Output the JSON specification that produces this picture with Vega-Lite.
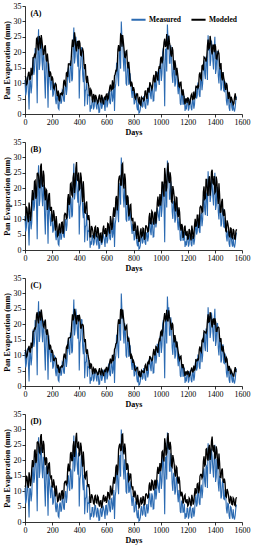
{
 "$schema": "https://vega.github.io/schema/vega-lite/v6.json",
 "padding": {"left": 3, "top": 2, "right": 4, "bottom": 2},
 "background": "white",
 "config": {
  "view": {"stroke": null},
  "font": "Liberation Serif",
  "axis": {"grid": false, "domainColor": "black", "tickColor": "black", "labelColor": "black", "titleColor": "black", "labelFont": "Liberation Serif", "titleFont": "Liberation Serif", "labelFontSize": 8, "titleFontSize": 8, "titleFontWeight": "bold", "tickSize": 3, "labelPadding": 1, "titlePadding": 2, "domainWidth": 0.8, "tickWidth": 0.8},
  "concat": {"spacing": 2}
 },
 "resolve": {"scale": {"color": "independent"}, "legend": {"color": "independent"}},
 "datasets": {"ev": [
{"d":0,"M":11.0,"A":12.2,"B":9.4,"C":11.7,"D":11.4},
{"d":10,"M":7.3,"A":9.5,"B":14.1,"C":9.4,"D":15.0},
{"d":20,"M":12.0,"A":11.5,"B":10.4,"C":11.1,"D":12.1},
{"d":30,"M":1.5,"A":13.7,"B":15.4,"C":13.0,"D":16.1},
{"d":40,"M":10.7,"A":11.3,"B":9.4,"C":11.0,"D":11.6},
{"d":50,"M":9.0,"A":12.5,"B":16.2,"C":12.3,"D":17.4},
{"d":60,"M":18.3,"A":18.3,"B":16.1,"C":17.6,"D":17.8},
{"d":70,"M":14.2,"A":19.2,"B":22.2,"C":18.7,"D":23.0},
{"d":80,"M":20.6,"A":19.7,"B":16.6,"C":19.3,"D":19.1},
{"d":90,"M":3.5,"A":24.7,"B":24.8,"C":23.9,"D":25.8},
{"d":100,"M":27.5,"A":20.6,"B":24.0,"C":20.3,"D":25.4},
{"d":110,"M":16.4,"A":24.3,"B":20.0,"C":23.6,"D":22.3},
{"d":120,"M":24.4,"A":25.6,"B":28.0,"C":24.8,"D":28.5},
{"d":130,"M":14.2,"A":21.7,"B":20.5,"C":21.2,"D":22.4},
{"d":140,"M":18.5,"A":19.4,"B":24.1,"C":19.0,"D":25.0},
{"d":150,"M":5.0,"A":22.3,"B":16.1,"C":21.5,"D":18.4},
{"d":160,"M":18.2,"A":17.0,"B":19.3,"C":16.6,"D":20.5},
{"d":170,"M":2.0,"A":17.2,"B":14.3,"C":16.6,"D":16.3},
{"d":180,"M":13.6,"A":12.0,"B":18.5,"C":11.8,"D":19.1},
{"d":190,"M":7.7,"A":13.2,"B":12.7,"C":12.8,"D":14.3},
{"d":200,"M":11.0,"A":12.2,"B":9.4,"C":11.7,"D":11.4},
{"d":210,"M":6.4,"A":8.5,"B":12.9,"C":8.3,"D":13.8},
{"d":220,"M":9.6,"A":9.3,"B":8.3,"C":8.9,"D":10.0},
{"d":230,"M":3.2,"A":9.5,"B":11.0,"C":8.9,"D":11.8},
{"d":240,"M":5.5,"A":5.8,"B":4.5,"C":5.7,"D":6.6},
{"d":250,"M":1.5,"A":4.6,"B":7.5,"C":4.5,"D":8.8},
{"d":260,"M":6.3,"A":6.6,"B":5.4,"C":6.1,"D":7.0},
{"d":270,"M":4.0,"A":6.8,"B":8.9,"C":6.5,"D":10.0},
{"d":280,"M":7.4,"A":6.7,"B":5.2,"C":6.6,"D":7.4},
{"d":290,"M":4.0,"A":11.1,"B":11.3,"C":10.5,"D":12.5},
{"d":300,"M":10.0,"A":9.1,"B":11.7,"C":9.0,"D":13.2},
{"d":310,"M":8.2,"A":13.5,"B":10.5,"C":13.0,"D":12.6},
{"d":320,"M":15.1,"A":16.2,"B":18.1,"C":15.5,"D":18.9},
{"d":330,"M":10.1,"A":16.2,"B":15.3,"C":15.7,"D":17.1},
{"d":340,"M":16.5,"A":17.3,"B":21.7,"C":16.9,"D":22.7},
{"d":350,"M":11.4,"A":24.1,"B":17.5,"C":23.2,"D":19.9},
{"d":360,"M":28.0,"A":22.5,"B":25.0,"C":22.0,"D":26.2},
{"d":370,"M":18.6,"A":24.6,"B":21.0,"C":23.9,"D":23.1},
{"d":380,"M":22.2,"A":20.3,"B":28.5,"C":20.0,"D":28.9},
{"d":390,"M":15.3,"A":23.5,"B":22.5,"C":22.8,"D":24.1},
{"d":400,"M":5.0,"A":23.8,"B":19.5,"C":23.1,"D":21.6},
{"d":410,"M":15.3,"A":19.1,"B":25.1,"C":18.8,"D":25.7},
{"d":420,"M":21.4,"A":20.6,"B":18.8,"C":20.0,"D":20.6},
{"d":430,"M":10.3,"A":20.2,"B":22.3,"C":19.5,"D":22.8},
{"d":440,"M":2.5,"A":14.5,"B":12.2,"C":14.2,"D":14.5},
{"d":450,"M":8.1,"A":11.4,"B":15.1,"C":11.2,"D":16.2},
{"d":460,"M":3.0,"A":12.4,"B":10.7,"C":11.9,"D":12.4},
{"d":470,"M":5.9,"A":9.1,"B":11.3,"C":8.7,"D":12.3},
{"d":480,"M":0.7,"A":5.7,"B":4.3,"C":5.5,"D":6.4},
{"d":490,"M":1.7,"A":7.5,"B":7.8,"C":7.0,"D":9.0},
{"d":500,"M":4.7,"A":3.8,"B":6.2,"C":3.8,"D":7.6},
{"d":510,"M":2.3,"A":5.8,"B":3.9,"C":5.4,"D":5.8},
{"d":520,"M":5.3,"A":6.2,"B":7.6,"C":5.7,"D":8.6},
{"d":530,"M":1.5,"A":4.6,"B":4.3,"C":4.4,"D":6.1},
{"d":540,"M":3.7,"A":3.9,"B":6.9,"C":3.8,"D":8.0},
{"d":550,"M":0.6,"A":6.3,"B":3.0,"C":5.8,"D":5.0},
{"d":560,"M":4.5,"A":3.8,"B":5.5,"C":3.7,"D":6.9},
{"d":570,"M":2.6,"A":5.3,"B":3.8,"C":4.9,"D":5.6},
{"d":580,"M":4.4,"A":3.1,"B":7.9,"C":3.2,"D":8.8},
{"d":590,"M":1.0,"A":5.6,"B":5.4,"C":5.3,"D":7.0},
{"d":600,"M":5.4,"A":6.4,"B":4.3,"C":6.0,"D":6.2},
{"d":610,"M":3.3,"A":4.7,"B":8.6,"C":4.7,"D":9.6},
{"d":620,"M":7.3,"A":7.0,"B":6.2,"C":6.6,"D":7.9},
{"d":630,"M":3.2,"A":9.5,"B":11.0,"C":8.9,"D":11.8},
{"d":640,"M":7.6,"A":8.0,"B":6.5,"C":7.8,"D":8.6},
{"d":650,"M":5.6,"A":8.3,"B":11.6,"C":8.1,"D":12.8},
{"d":660,"M":1.0,"A":12.4,"B":10.7,"C":11.9,"D":12.4},
{"d":670,"M":10.0,"A":14.1,"B":16.8,"C":13.7,"D":17.7},
{"d":680,"M":16.2,"A":15.4,"B":12.8,"C":15.0,"D":15.2},
{"d":690,"M":9.0,"A":22.3,"B":22.5,"C":21.6,"D":23.5},
{"d":700,"M":21.7,"A":20.6,"B":24.0,"C":20.3,"D":25.4},
{"d":710,"M":30.0,"A":25.5,"B":21.0,"C":24.8,"D":23.3},
{"d":720,"M":24.4,"A":25.6,"B":28.0,"C":24.8,"D":28.5},
{"d":730,"M":13.8,"A":21.1,"B":19.9,"C":20.6,"D":21.9},
{"d":740,"M":17.5,"A":18.3,"B":22.9,"C":18.0,"D":23.8},
{"d":750,"M":9.2,"A":20.5,"B":14.6,"C":19.7,"D":16.9},
{"d":760,"M":15.9,"A":14.8,"B":17.0,"C":14.4,"D":18.2},
{"d":770,"M":10.0,"A":14.3,"B":11.8,"C":13.7,"D":13.7},
{"d":780,"M":10.3,"A":8.9,"B":14.8,"C":8.8,"D":15.5},
{"d":790,"M":5.2,"A":9.8,"B":9.4,"C":9.4,"D":11.0},
{"d":800,"M":7.6,"A":8.7,"B":6.4,"C":8.2,"D":8.3},
{"d":810,"M":3.7,"A":5.3,"B":9.2,"C":5.2,"D":10.2},
{"d":820,"M":6.1,"A":5.8,"B":5.1,"C":5.5,"D":6.8},
{"d":830,"M":1.2,"A":6.5,"B":7.9,"C":6.0,"D":8.8},
{"d":840,"M":0.3,"A":3.7,"B":2.6,"C":3.5,"D":4.6},
{"d":850,"M":1.4,"A":3.0,"B":5.8,"C":3.0,"D":7.0},
{"d":860,"M":5.1,"A":5.4,"B":4.3,"C":5.0,"D":5.9},
{"d":870,"M":2.6,"A":5.1,"B":7.1,"C":4.8,"D":8.2},
{"d":880,"M":5.2,"A":4.6,"B":3.3,"C":4.4,"D":5.4},
{"d":890,"M":1.7,"A":7.5,"B":7.8,"C":7.0,"D":9.0},
{"d":900,"M":5.8,"A":4.9,"B":7.3,"C":4.9,"D":8.7},
{"d":910,"M":4.2,"A":8.3,"B":6.1,"C":7.9,"D":8.0},
{"d":920,"M":9.3,"A":10.3,"B":12.0,"C":9.7,"D":12.8},
{"d":930,"M":4.8,"A":9.0,"B":8.5,"C":8.7,"D":10.3},
{"d":940,"M":8.3,"A":8.7,"B":12.2,"C":8.5,"D":13.3},
{"d":950,"M":4.3,"A":12.7,"B":8.2,"C":12.0,"D":10.3},
{"d":960,"M":11.3,"A":10.4,"B":12.4,"C":10.1,"D":13.7},
{"d":970,"M":9.1,"A":13.1,"B":10.8,"C":12.6,"D":12.7},
{"d":980,"M":12.5,"A":10.9,"B":17.3,"C":10.8,"D":17.9},
{"d":990,"M":9.4,"A":15.5,"B":14.9,"C":15.0,"D":16.5},
{"d":1000,"M":16.6,"A":18.0,"B":14.4,"C":17.4,"D":16.5},
{"d":1010,"M":13.1,"A":16.4,"B":22.0,"C":16.1,"D":22.7},
{"d":1020,"M":21.4,"A":20.6,"B":18.8,"C":20.0,"D":20.6},
{"d":1030,"M":2.5,"A":24.4,"B":26.6,"C":23.6,"D":27.1},
{"d":1040,"M":21.1,"A":22.2,"B":19.0,"C":21.7,"D":21.5},
{"d":1050,"M":29.0,"A":21.5,"B":26.1,"C":21.1,"D":27.1},
{"d":1060,"M":25.5,"A":25.3,"B":22.5,"C":24.5,"D":24.2},
{"d":1070,"M":16.5,"A":22.0,"B":25.2,"C":21.4,"D":26.0},
{"d":1080,"M":19.5,"A":18.6,"B":15.7,"C":18.2,"D":18.2},
{"d":1090,"M":10.1,"A":20.6,"B":20.7,"C":19.8,"D":21.7},
{"d":1100,"M":15.3,"A":14.3,"B":17.3,"C":14.1,"D":18.7},
{"d":1110,"M":9.9,"A":15.8,"B":12.5,"C":15.2,"D":14.7},
{"d":1120,"M":14.0,"A":15.0,"B":16.9,"C":14.4,"D":17.6},
{"d":1130,"M":6.4,"A":11.2,"B":10.6,"C":10.9,"D":12.4},
{"d":1140,"M":8.3,"A":8.7,"B":12.2,"C":8.5,"D":13.3},
{"d":1150,"M":2.9,"A":10.3,"B":6.3,"C":9.7,"D":8.3},
{"d":1160,"M":6.8,"A":6.0,"B":7.8,"C":5.8,"D":9.1},
{"d":1170,"M":3.6,"A":6.4,"B":4.8,"C":6.0,"D":6.6},
{"d":1180,"M":1.0,"A":3.1,"B":7.9,"C":3.2,"D":8.8},
{"d":1190,"M":1.5,"A":4.9,"B":4.8,"C":4.6,"D":6.3},
{"d":1200,"M":4.3,"A":5.2,"B":3.3,"C":4.8,"D":5.2},
{"d":1210,"M":1.9,"A":3.1,"B":6.8,"C":3.1,"D":7.8},
{"d":1220,"M":4.9,"A":4.7,"B":4.1,"C":4.4,"D":5.7},
{"d":1230,"M":1.2,"A":6.5,"B":7.9,"C":6.0,"D":8.8},
{"d":1240,"M":4.5,"A":4.8,"B":3.6,"C":4.6,"D":5.6},
{"d":1250,"M":3.1,"A":5.1,"B":8.1,"C":5.0,"D":9.3},
{"d":1260,"M":8.7,"A":8.9,"B":7.5,"C":8.4,"D":9.2},
{"d":1270,"M":5.9,"A":9.1,"B":11.3,"C":8.7,"D":12.3},
{"d":1280,"M":9.6,"A":8.9,"B":7.1,"C":8.7,"D":9.3},
{"d":1290,"M":5.5,"A":13.5,"B":13.7,"C":12.8,"D":14.8},
{"d":1300,"M":12.1,"A":11.2,"B":14.0,"C":11.0,"D":15.4},
{"d":1310,"M":9.9,"A":15.8,"B":12.5,"C":15.2,"D":14.7},
{"d":1320,"M":17.4,"A":18.5,"B":20.6,"C":17.8,"D":21.3},
{"d":1330,"M":11.3,"A":17.8,"B":16.8,"C":17.4,"D":18.7},
{"d":1340,"M":17.5,"A":18.3,"B":22.9,"C":18.0,"D":23.8},
{"d":1350,"M":25.5,"A":24.1,"B":17.5,"C":23.2,"D":19.9},
{"d":1360,"M":22.7,"A":21.4,"B":23.9,"C":20.9,"D":25.0},
{"d":1370,"M":17.6,"A":23.5,"B":20.0,"C":22.8,"D":22.0},
{"d":1380,"M":21.1,"A":19.3,"B":26.0,"C":19.0,"D":27.7},
{"d":1390,"M":14.4,"A":22.3,"B":21.4,"C":21.7,"D":23.0},
{"d":1400,"M":25.0,"A":22.6,"B":18.5,"C":21.9,"D":20.6},
{"d":1410,"M":14.5,"A":18.0,"B":23.8,"C":17.7,"D":24.5},
{"d":1420,"M":20.2,"A":19.5,"B":17.8,"C":18.9,"D":19.6},
{"d":1430,"M":9.9,"A":19.6,"B":21.6,"C":18.9,"D":22.2},
{"d":1440,"M":13.8,"A":14.5,"B":12.2,"C":14.2,"D":14.5},
{"d":1450,"M":8.5,"A":11.9,"B":15.6,"C":11.8,"D":16.8},
{"d":1460,"M":13.5,"A":13.6,"B":11.8,"C":13.0,"D":13.5},
{"d":1470,"M":7.3,"A":10.7,"B":13.2,"C":10.3,"D":14.1},
{"d":1480,"M":8.5,"A":7.8,"B":6.2,"C":7.6,"D":8.4},
{"d":1490,"M":2.8,"A":9.3,"B":9.6,"C":8.7,"D":10.7},
{"d":1500,"M":5.8,"A":4.9,"B":7.3,"C":4.9,"D":8.7},
{"d":1510,"M":1.0,"A":6.0,"B":4.1,"C":5.7,"D":6.0},
{"d":1520,"M":4.7,"A":5.6,"B":7.0,"C":5.1,"D":8.0},
{"d":1530,"M":1.1,"A":4.0,"B":3.8,"C":3.8,"D":5.6},
{"d":1540,"M":1.5,"A":3.3,"B":6.3,"C":3.2,"D":7.4},
{"d":1550,"M":2.2,"A":6.7,"B":3.3,"C":6.1,"D":5.3},
{"d":1560,"M":5.6,"A":4.9,"B":6.7,"C":4.7,"D":8.0},
{"d":5,"M":6.0,"A":12.0,"B":10.1,"C":11.3,"D":11.9},
{"d":15,"M":11.6,"A":9.8,"B":13.4,"C":9.8,"D":14.5},
{"d":25,"M":7.1,"A":13.2,"B":9.0,"C":12.2,"D":11.1},
{"d":35,"M":10.8,"A":11.2,"B":13.3,"C":11.1,"D":14.5},
{"d":45,"M":6.7,"A":15.0,"B":11.0,"C":14.1,"D":13.1},
{"d":55,"M":15.5,"A":13.3,"B":19.4,"C":13.5,"D":20.1},
{"d":65,"M":12.7,"A":18.3,"B":17.2,"C":17.7,"D":18.8},
{"d":75,"M":21.4,"A":18.6,"B":22.5,"C":18.5,"D":23.5},
{"d":85,"M":14.4,"A":24.4,"B":17.6,"C":23.1,"D":20.0},
{"d":95,"M":20.6,"A":21.6,"B":24.9,"C":21.4,"D":26.0},
{"d":105,"M":14.3,"A":25.3,"B":20.5,"C":24.1,"D":22.7},
{"d":115,"M":23.9,"A":21.2,"B":27.0,"C":21.2,"D":27.7},
{"d":125,"M":17.4,"A":23.8,"B":21.5,"C":22.9,"D":23.3},
{"d":135,"M":21.1,"A":19.3,"B":25.7,"C":19.4,"D":26.3},
{"d":145,"M":10.8,"A":21.8,"B":18.2,"C":20.8,"D":20.2},
{"d":155,"M":17.6,"A":18.1,"B":19.7,"C":17.7,"D":21.0},
{"d":165,"M":11.4,"A":19.6,"B":13.0,"C":18.4,"D":15.5},
{"d":175,"M":16.4,"A":13.8,"B":17.9,"C":13.8,"D":18.9},
{"d":185,"M":10.3,"A":13.8,"B":13.5,"C":13.4,"D":15.1},
{"d":195,"M":11.8,"A":10.8,"B":14.0,"C":10.7,"D":15.1},
{"d":205,"M":5.6,"A":11.4,"B":9.5,"C":10.8,"D":11.3},
{"d":215,"M":9.9,"A":8.1,"B":11.6,"C":8.2,"D":12.7},
{"d":225,"M":4.7,"A":9.9,"B":6.3,"C":9.1,"D":8.3},
{"d":235,"M":6.3,"A":6.6,"B":8.4,"C":6.5,"D":9.7},
{"d":245,"M":1.9,"A":7.6,"B":4.8,"C":6.9,"D":6.8},
{"d":255,"M":5.7,"A":4.1,"B":8.6,"C":4.4,"D":9.5},
{"d":265,"M":3.3,"A":6.4,"B":5.9,"C":6.0,"D":7.5},
{"d":275,"M":7.8,"A":6.2,"B":9.0,"C":6.2,"D":10.1},
{"d":285,"M":4.5,"A":10.4,"B":6.2,"C":9.5,"D":8.4},
{"d":295,"M":8.9,"A":9.4,"B":11.9,"C":9.3,"D":13.1},
{"d":305,"M":6.2,"A":13.3,"B":10.2,"C":12.5,"D":12.1},
{"d":315,"M":13.9,"A":11.9,"B":16.5,"C":12.0,"D":17.4},
{"d":325,"M":11.4,"A":16.3,"B":14.6,"C":15.6,"D":16.4},
{"d":335,"M":17.3,"A":15.6,"B":21.4,"C":15.8,"D":22.1},
{"d":345,"M":10.6,"A":21.5,"B":17.9,"C":20.5,"D":19.9},
{"d":355,"M":21.1,"A":21.7,"B":23.4,"C":21.3,"D":24.7},
{"d":365,"M":16.4,"A":26.5,"B":18.5,"C":25.0,"D":21.1},
{"d":375,"M":25.0,"A":21.5,"B":26.5,"C":21.5,"D":27.3},
{"d":385,"M":18.3,"A":23.4,"B":22.7,"C":22.8,"D":24.3},
{"d":395,"M":22.5,"A":21.0,"B":25.1,"C":20.9,"D":26.1},
{"d":405,"M":13.8,"A":22.9,"B":19.9,"C":22.0,"D":21.9},
{"d":415,"M":21.5,"A":18.9,"B":23.5,"C":18.8,"D":24.4},
{"d":425,"M":12.9,"A":21.1,"B":15.6,"C":20.0,"D":17.9},
{"d":435,"M":15.3,"A":15.9,"B":18.1,"C":15.6,"D":19.4},
{"d":445,"M":7.4,"A":16.2,"B":12.0,"C":15.2,"D":14.1},
{"d":455,"M":12.1,"A":10.1,"B":15.7,"C":10.4,"D":16.4},
{"d":465,"M":6.4,"A":10.4,"B":9.7,"C":9.9,"D":11.3},
{"d":475,"M":8.4,"A":6.7,"B":9.6,"C":6.7,"D":10.7},
{"d":485,"M":2.8,"A":8.0,"B":4.3,"C":7.2,"D":6.4},
{"d":495,"M":4.7,"A":5.0,"B":7.2,"C":5.0,"D":8.5},
{"d":505,"M":1.5,"A":6.5,"B":4.2,"C":5.8,"D":6.1},
{"d":515,"M":5.2,"A":3.8,"B":7.3,"C":4.0,"D":8.4},
{"d":525,"M":2.6,"A":5.5,"B":4.6,"C":5.0,"D":6.3},
{"d":535,"M":4.6,"A":3.5,"B":7.4,"C":3.7,"D":8.4},
{"d":545,"M":0.5,"A":5.6,"B":3.9,"C":5.1,"D":5.7},
{"d":555,"M":4.0,"A":4.1,"B":5.4,"C":4.0,"D":6.8},
{"d":565,"M":1.7,"A":6.2,"B":2.4,"C":5.4,"D":4.5},
{"d":575,"M":5.3,"A":3.7,"B":6.7,"C":3.8,"D":7.8},
{"d":585,"M":3.1,"A":5.3,"B":5.3,"C":4.9,"D":6.8},
{"d":595,"M":5.3,"A":4.5,"B":7.1,"C":4.5,"D":8.3},
{"d":605,"M":2.1,"A":6.5,"B":5.1,"C":6.0,"D":6.9},
{"d":615,"M":6.7,"A":5.2,"B":8.4,"C":5.3,"D":9.5},
{"d":625,"M":3.8,"A":8.7,"B":5.3,"C":7.9,"D":7.3},
{"d":635,"M":7.3,"A":7.7,"B":9.5,"C":7.5,"D":10.8},
{"d":645,"M":4.0,"A":10.9,"B":7.6,"C":10.1,"D":9.6},
{"d":655,"M":10.4,"A":8.6,"B":13.8,"C":8.8,"D":14.6},
{"d":665,"M":8.4,"A":12.9,"B":12.1,"C":12.4,"D":13.7},
{"d":675,"M":16.4,"A":14.0,"B":17.5,"C":13.9,"D":18.6},
{"d":685,"M":11.9,"A":20.8,"B":14.7,"C":19.6,"D":17.0},
{"d":695,"M":19.5,"A":20.5,"B":23.8,"C":20.3,"D":24.8},
{"d":705,"M":14.7,"A":25.8,"B":21.0,"C":24.7,"D":23.2},
{"d":715,"M":24.4,"A":21.8,"B":27.6,"C":21.8,"D":28.3},
{"d":725,"M":17.2,"A":23.5,"B":21.2,"C":22.6,"D":23.0},
{"d":735,"M":20.3,"A":18.5,"B":24.8,"C":18.7,"D":25.4},
{"d":745,"M":9.9,"A":20.3,"B":16.9,"C":19.4,"D":18.9},
{"d":755,"M":15.7,"A":16.2,"B":17.7,"C":15.8,"D":19.0},
{"d":765,"M":9.5,"A":16.9,"B":10.9,"C":15.7,"D":13.3},
{"d":775,"M":13.2,"A":10.8,"B":14.6,"C":10.8,"D":15.6},
{"d":785,"M":7.4,"A":10.5,"B":10.3,"C":10.0,"D":11.8},
{"d":795,"M":8.5,"A":7.5,"B":10.4,"C":7.5,"D":11.6},
{"d":805,"M":3.1,"A":7.9,"B":6.4,"C":7.4,"D":8.2},
{"d":815,"M":6.4,"A":4.9,"B":8.1,"C":5.0,"D":9.2},
{"d":825,"M":2.3,"A":6.6,"B":3.6,"C":5.9,"D":5.6},
{"d":835,"M":3.9,"A":4.1,"B":5.8,"C":4.0,"D":7.2},
{"d":845,"M":0.5,"A":5.6,"B":3.1,"C":4.9,"D":5.0},
{"d":855,"M":4.3,"A":2.8,"B":7.0,"C":3.1,"D":8.0},
{"d":865,"M":2.1,"A":5.0,"B":4.6,"C":4.6,"D":6.2},
{"d":875,"M":5.8,"A":4.3,"B":6.9,"C":4.3,"D":8.1},
{"d":885,"M":2.4,"A":7.4,"B":3.8,"C":6.6,"D":5.9},
{"d":895,"M":5.2,"A":5.6,"B":7.8,"C":5.5,"D":9.1},
{"d":905,"M":2.8,"A":8.3,"B":5.9,"C":7.6,"D":7.8},
{"d":915,"M":8.5,"A":6.9,"B":10.7,"C":7.0,"D":11.8},
{"d":925,"M":6.1,"A":9.7,"B":8.6,"C":9.2,"D":10.3},
{"d":935,"M":9.3,"A":8.0,"B":12.6,"C":8.2,"D":13.5},
{"d":945,"M":4.2,"A":11.3,"B":9.0,"C":10.6,"D":10.8},
{"d":955,"M":10.1,"A":10.4,"B":11.8,"C":10.1,"D":13.1},
{"d":965,"M":7.3,"A":13.9,"B":8.5,"C":12.8,"D":10.8},
{"d":975,"M":13.7,"A":11.4,"B":15.2,"C":11.4,"D":16.2},
{"d":985,"M":10.8,"A":14.4,"B":14.1,"C":13.9,"D":15.6},
{"d":995,"M":15.7,"A":14.6,"B":18.1,"C":14.5,"D":19.1},
{"d":1005,"M":10.7,"A":18.6,"B":16.1,"C":17.8,"D":17.9},
{"d":1015,"M":20.1,"A":17.5,"B":22.0,"C":17.5,"D":23.0},
{"d":1025,"M":14.5,"A":23.2,"B":17.3,"C":22.0,"D":19.6},
{"d":1035,"M":20.9,"A":21.7,"B":24.2,"C":21.3,"D":25.3},
{"d":1045,"M":13.8,"A":25.9,"B":20.3,"C":24.7,"D":22.5},
{"d":1055,"M":23.6,"A":20.9,"B":28.3,"C":21.1,"D":28.8},
{"d":1065,"M":16.5,"A":23.2,"B":21.7,"C":22.4,"D":23.4},
{"d":1075,"M":22.3,"A":19.4,"B":23.4,"C":19.3,"D":24.4},
{"d":1085,"M":12.5,"A":21.7,"B":15.4,"C":20.5,"D":17.8},
{"d":1095,"M":15.6,"A":16.5,"B":19.4,"C":16.3,"D":20.5},
{"d":1105,"M":8.9,"A":17.4,"B":13.7,"C":16.5,"D":15.7},
{"d":1115,"M":14.5,"A":12.5,"B":17.1,"C":12.5,"D":18.0},
{"d":1125,"M":8.9,"A":13.2,"B":11.7,"C":12.6,"D":13.5},
{"d":1135,"M":10.4,"A":9.0,"B":13.8,"C":9.2,"D":14.7},
{"d":1145,"M":3.4,"A":10.2,"B":7.9,"C":9.5,"D":9.8},
{"d":1155,"M":6.8,"A":7.1,"B":8.4,"C":6.9,"D":9.8},
{"d":1165,"M":3.0,"A":8.0,"B":3.9,"C":7.1,"D":6.0},
{"d":1175,"M":5.9,"A":4.2,"B":7.3,"C":4.3,"D":8.4},
{"d":1185,"M":2.8,"A":4.9,"B":4.9,"C":4.6,"D":6.5},
{"d":1195,"M":4.4,"A":3.6,"B":6.2,"C":3.6,"D":7.4},
{"d":1205,"M":1.1,"A":5.1,"B":3.8,"C":4.6,"D":5.6},
{"d":1215,"M":4.7,"A":3.3,"B":6.3,"C":3.4,"D":7.4},
{"d":1225,"M":1.9,"A":6.1,"B":3.1,"C":5.3,"D":5.1},
{"d":1235,"M":4.4,"A":4.7,"B":6.4,"C":4.6,"D":7.7},
{"d":1245,"M":1.7,"A":7.3,"B":4.6,"C":6.6,"D":6.5},
{"d":1255,"M":7.1,"A":5.4,"B":10.1,"C":5.7,"D":11.0},
{"d":1265,"M":5.0,"A":8.7,"B":8.1,"C":8.2,"D":9.7},
{"d":1275,"M":10.2,"A":8.4,"B":11.3,"C":8.3,"D":12.5},
{"d":1285,"M":6.2,"A":12.8,"B":8.2,"C":11.8,"D":10.3},
{"d":1295,"M":11.0,"A":11.6,"B":14.2,"C":11.4,"D":15.4},
{"d":1305,"M":7.7,"A":15.6,"B":12.2,"C":14.8,"D":14.2},
{"d":1315,"M":16.2,"A":14.1,"B":18.9,"C":14.1,"D":19.7},
{"d":1325,"M":13.0,"A":18.3,"B":16.5,"C":17.6,"D":18.3},
{"d":1335,"M":18.6,"A":17.0,"B":22.9,"C":17.1,"D":23.6},
{"d":1345,"M":11.0,"A":22.1,"B":18.4,"C":21.1,"D":20.5},
{"d":1355,"M":20.6,"A":21.1,"B":22.8,"C":20.7,"D":24.1},
{"d":1365,"M":15.6,"A":25.3,"B":17.6,"C":23.9,"D":20.1},
{"d":1375,"M":23.8,"A":20.5,"B":25.3,"C":20.4,"D":26.2},
{"d":1385,"M":17.4,"A":22.3,"B":21.7,"C":21.6,"D":23.3},
{"d":1395,"M":21.3,"A":20.0,"B":24.0,"C":19.8,"D":24.9},
{"d":1405,"M":13.0,"A":21.8,"B":18.9,"C":20.9,"D":20.8},
{"d":1415,"M":20.3,"A":17.8,"B":22.3,"C":17.7,"D":23.2},
{"d":1425,"M":12.3,"A":20.3,"B":14.9,"C":19.1,"D":17.1},
{"d":1435,"M":15.0,"A":15.6,"B":17.9,"C":15.4,"D":19.1},
{"d":1445,"M":7.6,"A":16.5,"B":12.3,"C":15.5,"D":14.4},
{"d":1455,"M":12.9,"A":10.9,"B":16.6,"C":11.2,"D":17.3},
{"d":1465,"M":7.5,"A":11.8,"B":11.0,"C":11.3,"D":12.7},
{"d":1475,"M":10.5,"A":8.6,"B":11.6,"C":8.6,"D":12.8},
{"d":1485,"M":4.3,"A":10.1,"B":6.0,"C":9.2,"D":8.1},
{"d":1495,"M":6.0,"A":6.4,"B":8.7,"C":6.3,"D":9.9},
{"d":1505,"M":2.0,"A":7.2,"B":4.8,"C":6.5,"D":6.7},
{"d":1515,"M":5.0,"A":3.7,"B":7.1,"C":3.8,"D":8.2},
{"d":1525,"M":2.2,"A":4.9,"B":4.1,"C":4.5,"D":5.7},
{"d":1535,"M":4.1,"A":3.0,"B":6.8,"C":3.2,"D":7.8},
{"d":1545,"M":0.8,"A":5.5,"B":3.8,"C":5.0,"D":5.6},
{"d":1555,"M":4.7,"A":4.8,"B":6.1,"C":4.7,"D":7.5}
 ]},
 "vconcat": [
  {
   "width": 217, "height": 108,
   "layer": [
    {"data": {"name": "ev"}, "mark": {"type": "line", "strokeWidth": 1.1},
     "encoding": {
      "x": {"field": "d", "type": "quantitative", "scale": {"domain": [0, 1600], "nice": false}, "axis": {"tickCount": 8, "format": "d", "title": "Days", "labelOverlap": false, "labelFlush": false}},
      "y": {"field": "M", "type": "quantitative", "scale": {"domain": [0, 35], "nice": false}, "axis": {"tickCount": 7, "format": "d", "title": "Pan Evaporation (mm)", "labelOverlap": false, "labelFlush": false}},
      "color": {"datum": "Measured", "scale": {"domain": ["Measured", "Modeled"], "range": ["#2c6bb2", "#000000"]},
       "legend": {"orient": "top-right", "direction": "horizontal", "title": null, "symbolType": "stroke", "symbolStrokeWidth": 2, "symbolSize": 200, "labelFont": "Liberation Serif", "labelFontSize": 7.5, "labelFontWeight": "bold", "labelColor": "black", "offset": 5, "columnPadding": 6, "padding": 0, "labelOffset": 2}}
     }},
    {"data": {"name": "ev"}, "mark": {"type": "line", "strokeWidth": 1.3},
     "encoding": {
      "x": {"field": "d", "type": "quantitative"},
      "y": {"field": "A", "type": "quantitative", "title": "Pan Evaporation (mm)"},
      "color": {"datum": "Modeled"}
     }},
    {"data": {"values": [{}]}, "mark": {"type": "text", "text": "(A)", "fontWeight": "bold", "fontSize": 8, "align": "left", "baseline": "middle", "font": "Liberation Serif"},
     "encoding": {"x": {"datum": 40}, "y": {"datum": 32.3}}}
   ]
  },
  {
   "width": 217, "height": 108,
   "layer": [
    {"data": {"name": "ev"}, "mark": {"type": "line", "strokeWidth": 1.1, "color": "#2c6bb2"},
     "encoding": {
      "x": {"field": "d", "type": "quantitative", "scale": {"domain": [0, 1600], "nice": false}, "axis": {"tickCount": 8, "format": "d", "title": "Days", "labelOverlap": false, "labelFlush": false}},
      "y": {"field": "M", "type": "quantitative", "scale": {"domain": [0, 35], "nice": false}, "axis": {"tickCount": 7, "format": "d", "title": "Pan Evaporation (mm)", "labelOverlap": false, "labelFlush": false}}
     }},
    {"data": {"name": "ev"}, "mark": {"type": "line", "strokeWidth": 1.3, "color": "#000000"},
     "encoding": {
      "x": {"field": "d", "type": "quantitative"},
      "y": {"field": "B", "type": "quantitative", "title": "Pan Evaporation (mm)"}
     }},
    {"data": {"values": [{}]}, "mark": {"type": "text", "text": "(B)", "fontWeight": "bold", "fontSize": 8, "align": "left", "baseline": "middle", "font": "Liberation Serif"},
     "encoding": {"x": {"datum": 40}, "y": {"datum": 32.3}}}
   ]
  },
  {
   "width": 217, "height": 108,
   "layer": [
    {"data": {"name": "ev"}, "mark": {"type": "line", "strokeWidth": 1.1, "color": "#2c6bb2"},
     "encoding": {
      "x": {"field": "d", "type": "quantitative", "scale": {"domain": [0, 1600], "nice": false}, "axis": {"tickCount": 8, "format": "d", "title": "Days", "labelOverlap": false, "labelFlush": false}},
      "y": {"field": "M", "type": "quantitative", "scale": {"domain": [0, 35], "nice": false}, "axis": {"tickCount": 7, "format": "d", "title": "Pan Evaporation (mm)", "labelOverlap": false, "labelFlush": false}}
     }},
    {"data": {"name": "ev"}, "mark": {"type": "line", "strokeWidth": 1.3, "color": "#000000"},
     "encoding": {
      "x": {"field": "d", "type": "quantitative"},
      "y": {"field": "C", "type": "quantitative", "title": "Pan Evaporation (mm)"}
     }},
    {"data": {"values": [{}]}, "mark": {"type": "text", "text": "(C)", "fontWeight": "bold", "fontSize": 8, "align": "left", "baseline": "middle", "font": "Liberation Serif"},
     "encoding": {"x": {"datum": 40}, "y": {"datum": 32.3}}}
   ]
  },
  {
   "width": 217, "height": 108,
   "layer": [
    {"data": {"name": "ev"}, "mark": {"type": "line", "strokeWidth": 1.1, "color": "#2c6bb2"},
     "encoding": {
      "x": {"field": "d", "type": "quantitative", "scale": {"domain": [0, 1600], "nice": false}, "axis": {"tickCount": 8, "format": "d", "title": "Days", "labelOverlap": false, "labelFlush": false}},
      "y": {"field": "M", "type": "quantitative", "scale": {"domain": [0, 35], "nice": false}, "axis": {"tickCount": 7, "format": "d", "title": "Pan Evaporation (mm)", "labelOverlap": false, "labelFlush": false}}
     }},
    {"data": {"name": "ev"}, "mark": {"type": "line", "strokeWidth": 1.3, "color": "#000000"},
     "encoding": {
      "x": {"field": "d", "type": "quantitative"},
      "y": {"field": "D", "type": "quantitative", "title": "Pan Evaporation (mm)"}
     }},
    {"data": {"values": [{}]}, "mark": {"type": "text", "text": "(D)", "fontWeight": "bold", "fontSize": 8, "align": "left", "baseline": "middle", "font": "Liberation Serif"},
     "encoding": {"x": {"datum": 40}, "y": {"datum": 32.3}}}
   ]
  }
 ]
}
